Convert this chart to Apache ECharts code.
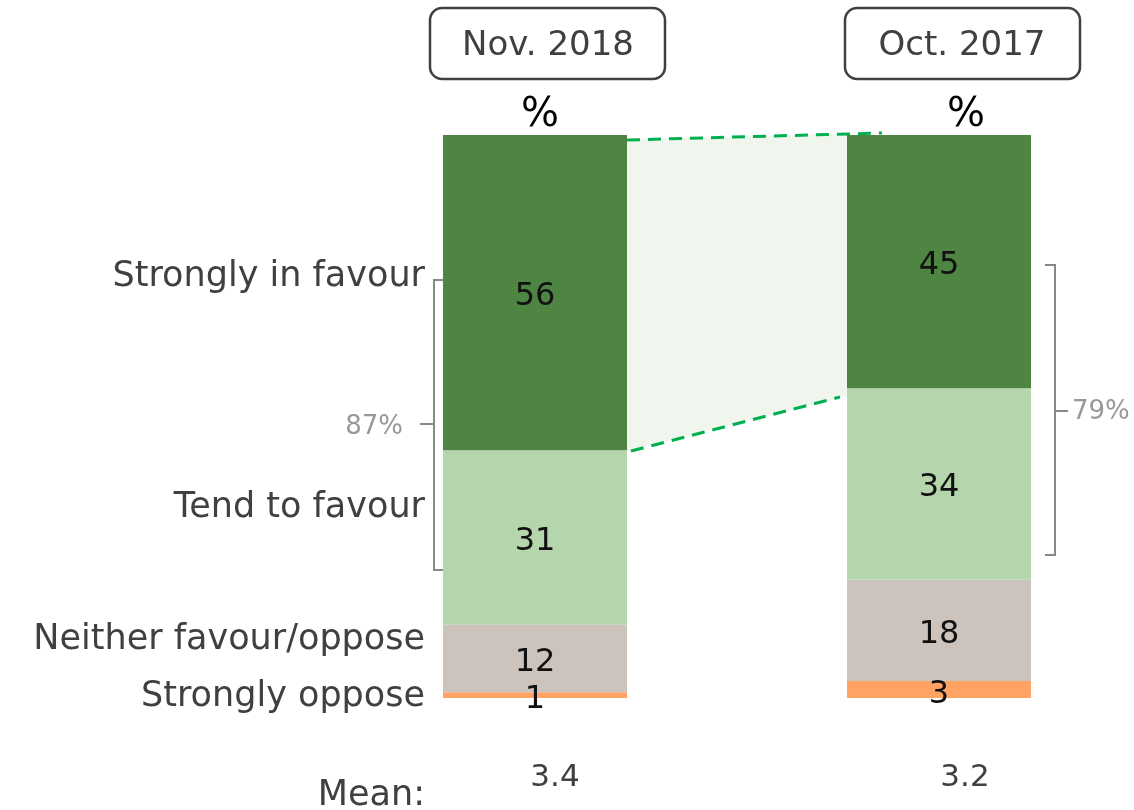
<!DOCTYPE html>
<html><head><meta charset="utf-8">
<script src="https://cdn.jsdelivr.net/npm/echarts@6/dist/echarts.min.js"></script>
<style>html,body{margin:0;padding:0;background:#fff}#c{width:1134px;height:810px}</style>
</head><body><div id="c"></div>
<script>
const periods = ['Nov. 2018', 'Oct. 2017'];
const stronglyInFavour = [56, 45];
const tendToFavour = [31, 34];
const neitherFavourOppose = [12, 18];
const stronglyOppose = [1, 3];
const means = ['3.4', '3.2'];
const netFavour = ['87%', '79%'];
const rowLabels = ['Strongly in favour', 'Tend to favour', 'Neither favour/oppose', 'Strongly oppose'];

const FONT = "'Century Gothic', 'DejaVu Sans', sans-serif";
const chart = echarts.init(document.getElementById('c'), null, {renderer: 'canvas'});

function barSeries(name, data, color, offset) {
  return {
    name, type: 'bar', stack: 'all', barWidth: 184, clip: false, data,
    itemStyle: {color},
    label: {show: true, position: 'inside', color: '#111', fontSize: 32, fontFamily: FONT, offset: offset || [0, 4]},
    emphasis: {disabled: true}, silent: true
  };
}

const txt = (x, y, text, opt) => Object.assign({type: 'text', x, y, silent: true,
  style: Object.assign({text, fontFamily: FONT, fill: '#404040', fontSize: 35, textAlign: 'right', textVerticalAlign: 'middle'}, opt || {})});

const graphics = [
  {type: 'polygon', silent: true, z: 0, shape: {points: [[627, 139], [847, 134], [847, 396], [627, 451]]}, style: {fill: '#F0F6EE'}},
  {type: 'line', silent: true, shape: {x1: 627, y1: 140, x2: 882, y2: 133}, style: {stroke: '#00B050', lineWidth: 3, lineDash: [13, 8]}},
  {type: 'line', silent: true, shape: {x1: 631, y1: 451, x2: 840, y2: 397}, style: {stroke: '#00B050', lineWidth: 3, lineDash: [13, 8]}},
  {type: 'rect', silent: true, shape: {x: 430, y: 8, width: 235, height: 71, r: 12}, style: {fill: '#fff', stroke: '#404040', lineWidth: 2.5}},
  {type: 'rect', silent: true, shape: {x: 845, y: 8, width: 235, height: 71, r: 12}, style: {fill: '#fff', stroke: '#404040', lineWidth: 2.5}},
  txt(548, 46, periods[0], {textAlign: 'center', fontSize: 34}),
  txt(962, 46, periods[1], {textAlign: 'center', fontSize: 34}),
  txt(540, 116, '%', {textAlign: 'center', fontSize: 40, fill: '#000'}),
  txt(966, 116, '%', {textAlign: 'center', fontSize: 40, fill: '#000'}),
  txt(425, 277, rowLabels[0]),
  txt(425, 508, rowLabels[1]),
  txt(425, 640, rowLabels[2]),
  txt(425, 697, rowLabels[3]),
  {type: 'polyline', silent: true, shape: {points: [[443, 280], [434, 280], [434, 570], [443, 570]]}, style: {stroke: '#888', lineWidth: 2, fill: null}},
  {type: 'line', silent: true, shape: {x1: 434, y1: 424, x2: 420, y2: 424}, style: {stroke: '#888', lineWidth: 2}},
  txt(403, 427, netFavour[0], {fontSize: 26, fill: '#999'}),
  {type: 'polyline', silent: true, shape: {points: [[1045, 265], [1055, 265], [1055, 555], [1045, 555]]}, style: {stroke: '#888', lineWidth: 2, fill: null}},
  {type: 'line', silent: true, shape: {x1: 1055, y1: 411, x2: 1068, y2: 411}, style: {stroke: '#888', lineWidth: 2}},
  txt(1072, 412, netFavour[1], {fontSize: 26, fill: '#999', textAlign: 'left'}),
  txt(425, 796, 'Mean:'),
  txt(555, 778, means[0], {textAlign: 'center', fontSize: 31}),
  txt(965, 778, means[1], {textAlign: 'center', fontSize: 31})
];

chart.setOption({
  animation: false,
  backgroundColor: '#fff',
  grid: {left: 535, width: 404, top: 135, height: 563},
  xAxis: {type: 'category', data: periods, boundaryGap: false, show: false},
  yAxis: {type: 'value', min: 0, max: 100, show: false},
  series: [
    barSeries('Strongly oppose', stronglyOppose, '#FFA264', [0, 5]),
    barSeries('Neither favour/oppose', neitherFavourOppose, '#CBC3BC'),
    barSeries('Tend to favour', tendToFavour, '#B5D5AD'),
    barSeries('Strongly in favour', stronglyInFavour, '#4E8542')
  ],
  graphic: graphics
});
</script></body></html>
